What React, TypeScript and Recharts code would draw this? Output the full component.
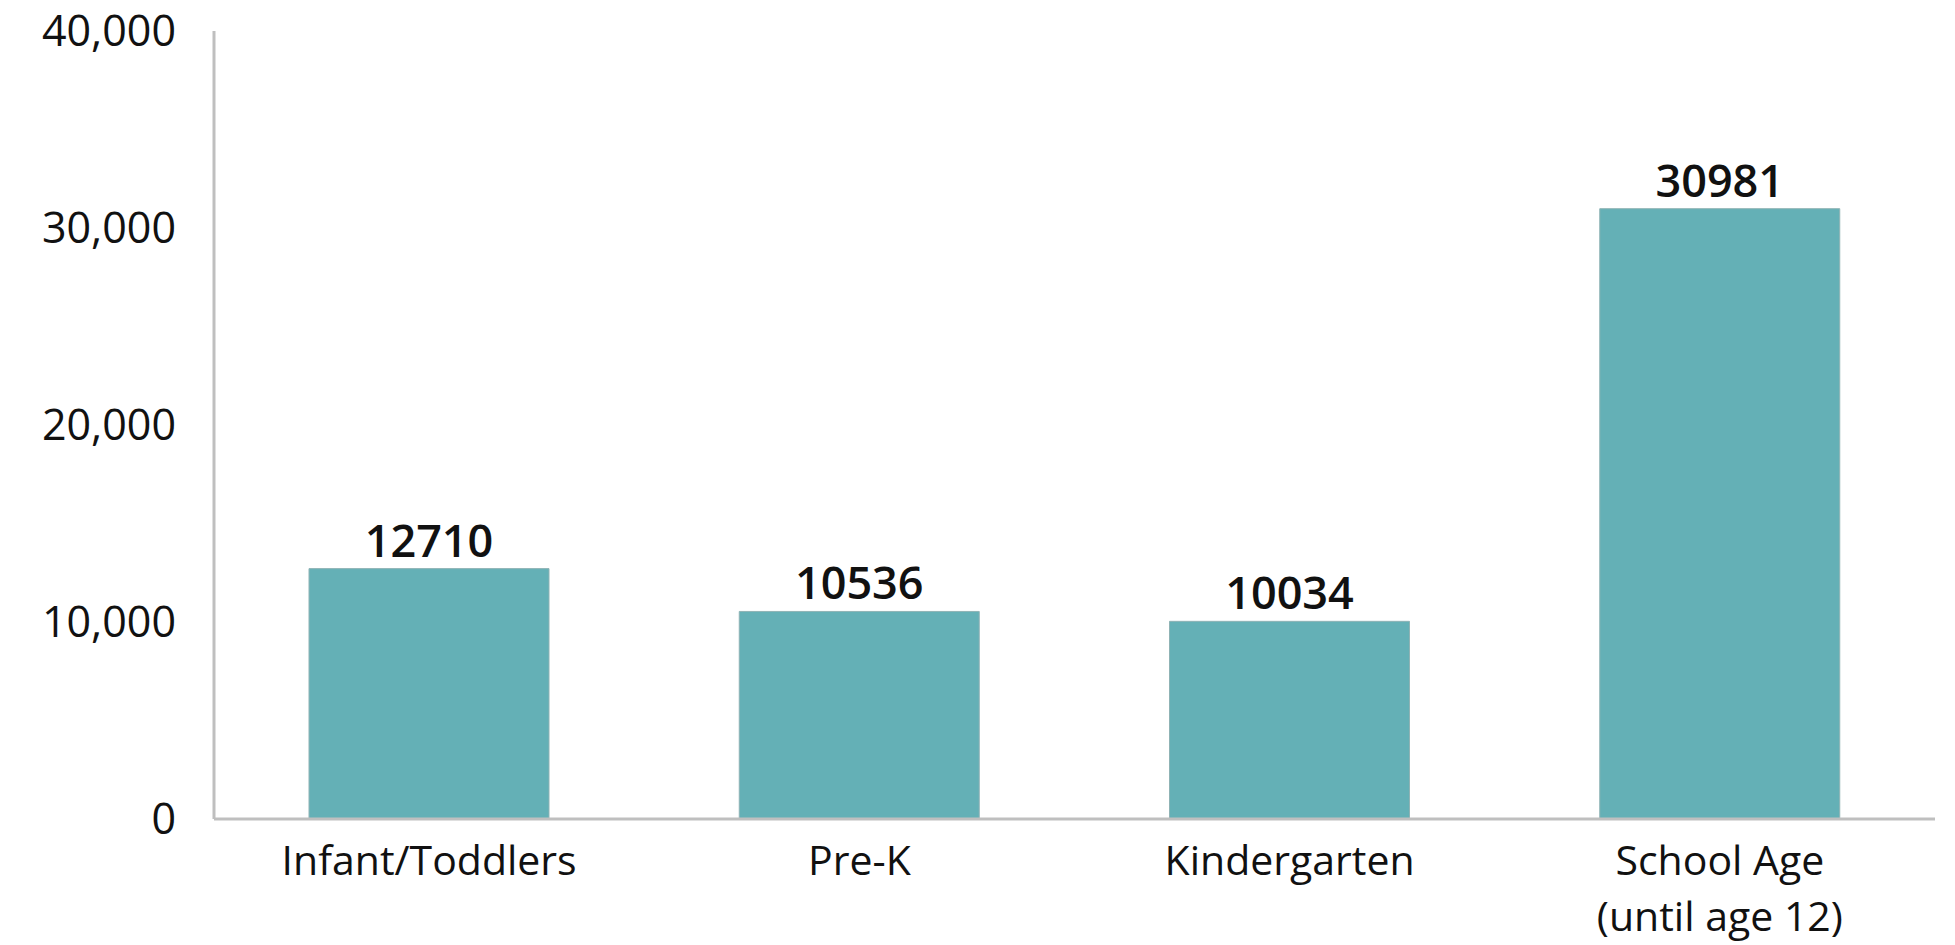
import { BarChart, Bar, XAxis, YAxis, LabelList } from 'recharts';

const categories = ['Infant/Toddlers', 'Pre-K', 'Kindergarten', 'School Age\n(until age 12)'];
const counts = [12710, 10536, 10034, 30981];
const yTicks = [0, 10000, 20000, 30000, 40000];

const data = categories.map((name, i) => ({ name, count: counts[i] }));

const FONT = '"Open Sans", Lato, sans-serif';

// multi-line category label, one <text> with a tspan per line
function CategoryTick(props: any) {
  const { x, y, payload } = props;
  const lines = String(payload.value).split('\n');
  return (
    <g transform={`translate(${x},${y})`}>
      <text x={0} y={0} textAnchor="middle" fill="#111" fontSize={41} fontFamily={FONT}>
        {lines.map((line, i) => (
          <tspan key={i} x={0} dy={i === 0 ? 48 : 56}>
            {line}
          </tspan>
        ))}
      </text>
    </g>
  );
}

export default function App() {
  return (
    <div style={{ width: 1940, height: 945, marginTop: -8, background: '#fff' }}>
      <BarChart
        width={1940}
        height={945}
        data={data}
        margin={{ top: 31, right: 13, bottom: 0, left: 0 }}
      >
        <XAxis
          dataKey="name"
          tick={<CategoryTick />}
          tickLine={false}
          axisLine={{ stroke: '#bfbfbf', strokeWidth: 3 }}
          interval={0}
          height={126}
        />
        <YAxis
          width={206}
          domain={[0, 40000]}
          ticks={yTicks}
          tickLine={false}
          axisLine={{ stroke: '#bfbfbf', strokeWidth: 3 }}
          tickMargin={32}
          tickFormatter={(v: number) => v.toLocaleString('en-US')}
          tick={{ fill: '#111', fontSize: 43, fontFamily: FONT }}
        />
        <Bar
          dataKey="count"
          fill="#64b0b6"
          stroke="#8fb3b5"
          strokeWidth={1}
          barSize={240}
          isAnimationActive={false}
        >
          <LabelList
            dataKey="count"
            position="top"
            offset={12}
            fill="#111"
            fontSize={45}
            fontWeight={600}
            fontFamily={FONT}
          />
        </Bar>
      </BarChart>
    </div>
  );
}
